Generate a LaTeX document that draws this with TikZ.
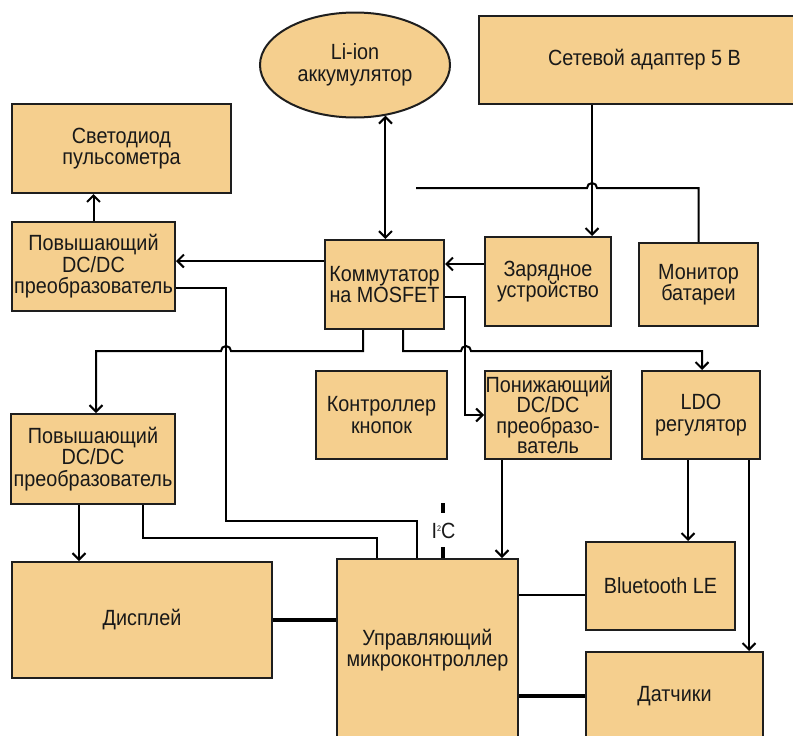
\documentclass[tikz,border=0pt]{standalone}
\usepackage{fontspec}
\setmainfont[FakeStretch=0.9]{Liberation Sans}
\usetikzlibrary{arrows.meta,shapes.geometric}
\definecolor{blockfill}{RGB}{245,207,142}
\definecolor{blockline}{RGB}{30,30,30}

\begin{document}
\begin{tikzpicture}[x=1pt, y=-1pt,
    block/.style={draw=blockline, fill=blockfill, line width=2pt, align=center,
        inner sep=0pt, text=black!90, font=\fontsize{22}{21.5}\selectfont},
    wire/.style={line width=2pt},
    thinwire/.style={line width=1.6pt},
    arr/.style={wire, -{Straight Barb[length=6.5pt,width=13pt]}},
    dbl/.style={wire, {Straight Barb[length=6.5pt,width=13pt]}-{Straight Barb[length=6.5pt,width=13pt]}},
    bus/.style={line width=4pt},
    ]
    \useasboundingbox (0,0) rectangle (793,736);
    \clip (0,0) rectangle (793,736);

    % Power sources
    \node[block, ellipse, minimum width=190, minimum height=105] (batt) at (355,65) {Li-ion\\аккумулятор};
    \node[block, minimum width=331, minimum height=88] (adapter) at (644.5,60) {Сетевой адаптер 5 В};

    % Power management
    \node[block, minimum width=219, minimum height=89] (led) at (121.5,148.5) {Светодиод\\пульсометра};
    \node[block, minimum width=163, minimum height=89] (boost1) at (93.5,266.5) {Повышающий\\DC/DC\\преобразователь};
    \node[block, minimum width=119, minimum height=89] (mos) at (384.5,284.5) {Коммутатор\\на MOSFET};
    \node[block, minimum width=126, minimum height=89] (charger) at (548,281.5) {Зарядное\\устройство};
    \node[block, minimum width=119, minimum height=83] (monitor) at (698.5,284.5) {Монитор\\батареи};
    \node[block, minimum width=164, minimum height=90] (boost2) at (93,459) {Повышающий\\DC/DC\\преобразователь};
    \node[block, minimum width=131, minimum height=88] (buttons) at (381.5,415) {Контроллер\\кнопок};
    \node[block, minimum width=126, minimum height=88, font=\fontsize{22}{20.5}\selectfont] (buck) at (548,415) {Понижающий\\DC/DC\\преобразо-\\ватель};
    \node[block, minimum width=118, minimum height=88] (ldo) at (701,415) {LDO\\регулятор};

    % Loads
    \node[block, minimum width=260, minimum height=116] (display) at (142,620) {Дисплей};
    \node[block, minimum width=181, minimum height=182] (mcu) at (427.5,650) {Управляющий\\микроконтроллер};
    \node[block, minimum width=149, minimum height=88] (bt) at (660.5,586) {Bluetooth LE};
    \node[block, minimum width=177, minimum height=88] (sensors) at (674.5,696) {Датчики};
    \node[inner sep=0pt, text=black!90, font=\fontsize{22}{21.5}\selectfont] (i2c) at (443.5,531)
        {I\raisebox{7pt}{\fontsize{8}{8}\selectfont 2}C};

    % Helper points
    \coordinate (battout) at (batt.-59);
    \coordinate (mfree) at (416,188);
    \coordinate (mosw) at ([yshift=23.5]mos.west);
    \coordinate (chw) at ([yshift=17.5]charger.west);
    \coordinate (b2out) at ([xshift=-14]boost2.south);
    \coordinate (buckout) at ([xshift=-46]buck.south);
    \coordinate (ldoa) at ([xshift=-13]ldo.south);
    \coordinate (ldob) at ([xshift=48]ldo.south);
    \coordinate (btin) at ([yshift=-9]bt.west);
    \coordinate (i2ctop) at (443,503);

    % Supply lines
    \draw[dbl] (battout) -- (battout |- mos.north);
    \draw[arr] ([xshift=-52.5]adapter.south) -- ([xshift=44]charger.north);
    \draw[wire] (monitor.north) |- (597,188) arc[start angle=0, end angle=-180, radius=5] -- (mfree);
    \draw[arr] (chw) -- (chw -| mos.east);
    \draw[arr] (mosw) -- (mosw -| boost1.east);
    \draw[arr] (boost1.north) -- (boost1.north |- led.south);
    \draw[arr] ([xshift=-21.5]mos.south) |- (231,351) arc[start angle=0, end angle=-180, radius=5] -| ([xshift=3]boost2.north);
    \draw[arr] ([xshift=18.5]mos.south) |- (461,351) arc[start angle=180, end angle=360, radius=5] -| ([xshift=1]ldo.north);
    \draw[arr] ([yshift=-12.5]mos.east) -| ([xshift=-19]buck.west) -- (buck.west);
    \draw[arr] (b2out) -- (b2out |- display.north);
    \draw[arr] (buckout) -- (buckout |- mcu.north);
    \draw[arr] (ldoa) -- (ldoa |- bt.north);
    \draw[arr] (ldob) -- (ldob |- sensors.north);

    % Control lines
    \draw[thinwire] ([yshift=-21.5]boost1.east) -| (226,521) -| ([xshift=-10.5]mcu.north);
    \draw[thinwire] ([xshift=50]boost2.south) |- (377,538) -- ([xshift=-50.5]mcu.north);
    \draw[bus] ([xshift=15.5]mcu.north) -- ++(0,-11);
    \draw[bus] (i2ctop) -- ++(0,10);
    \draw[bus] (display.east) -- (display.east -| mcu.west);
    \draw[wire] (btin -| mcu.east) -- (btin);
    \draw[bus] (sensors.west -| mcu.east) -- (sensors.west);
\end{tikzpicture}
\end{document}
